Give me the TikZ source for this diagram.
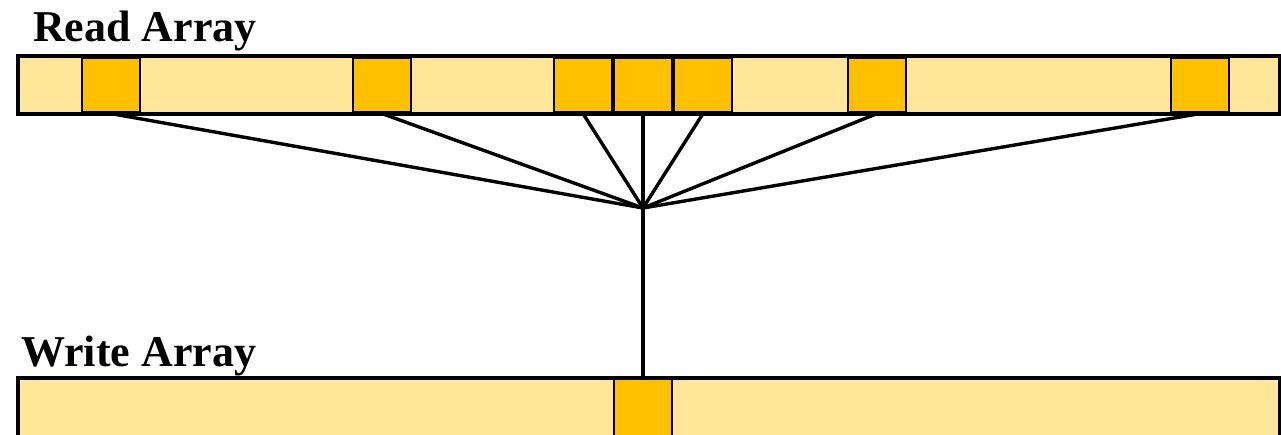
\documentclass[tikz,border=0pt]{standalone}
\usepackage{fontspec}
\setmainfont{Liberation Serif}
\definecolor{cellpale}{HTML}{FFE699}
\definecolor{cellhot}{HTML}{FFC000}
\begin{document}
	\begin{tikzpicture}[
		x=1pt, y=-1pt,
		hot/.style={
			draw,
			fill=cellhot,
			line width=2.2pt,
			inner sep=0pt,
			minimum width=58pt,
			minimum height=55pt
		},
		label/.style={anchor=base west, inner sep=0pt, font=\fontsize{44}{44}\selectfont\bfseries},
		wire/.style={line width=3.4pt}
		]
		
		\useasboundingbox (0,0) rectangle (1281,434);
		
		\node[label] (readlbl) at (33,41) {Read Array};
		\node[label] (writelbl) at (21,366) {Write Array};
		
		\fill[cellpale] (19,57) rectangle (1279,113);
		\foreach \name/\cx in {r1/111, r2/382, r3/583, r4/643, r5/703, r6/877, r7/1200}
			\node[hot] (\name) at (\cx,85) {};
		\draw[line width=4pt] (17.5,56) rectangle (1279.5,114);
		
		\fill[cellpale] (19,379) rectangle (1279,440);
		\node[hot, minimum height=60pt] (w) at (643,409) {};
		\draw[line width=4pt] (1279.5,440) -- (1279.5,378) -- (17.5,378) -- (17.5,440);
		
		\coordinate (hub) at (643,208);
		\foreach \name in {r1, r2, r3, r4, r5, r6, r7}
			\draw[wire] (\name.south) -- (hub);
		\draw[wire] (hub) -- (w.north);
		
	\end{tikzpicture}
\end{document}
